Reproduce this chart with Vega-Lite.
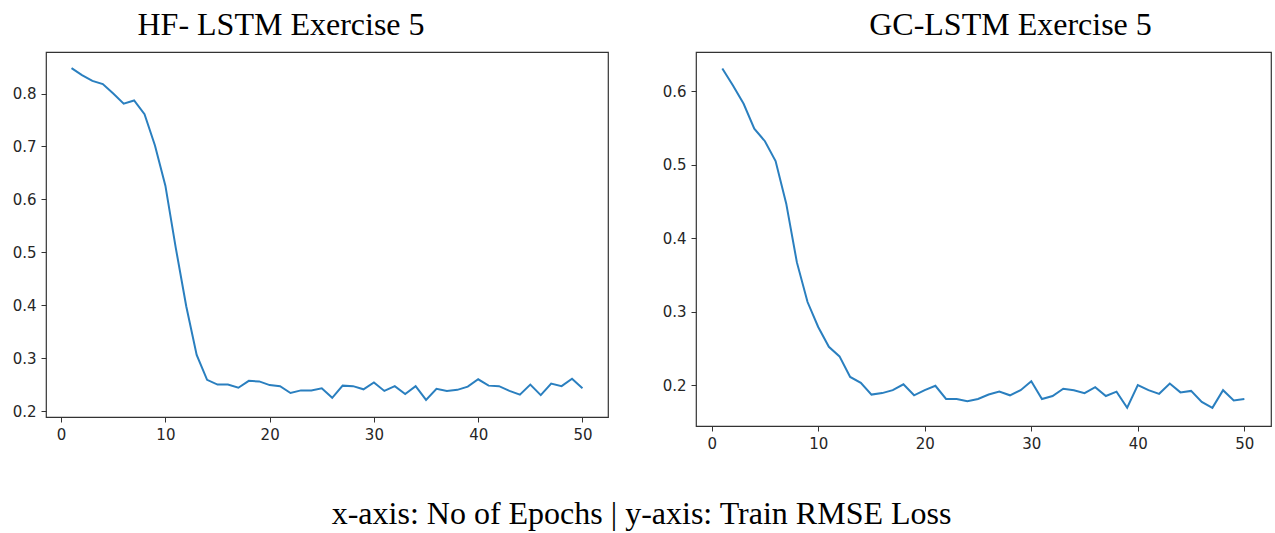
{
  "$schema": "https://vega.github.io/schema/vega-lite/v6.json",
  "background": "white",
  "padding": {"left": 11, "top": 8, "right": 2, "bottom": 2},
  "autosize": {"type": "pad"},
  "title": {"text": "x-axis: No of Epochs | y-axis: Train RMSE Loss", "orient": "bottom", "anchor": "middle", "font": "Liberation Serif", "fontSize": 32, "fontWeight": "normal", "color": "black", "offset": 47},
  "config": {
    "view": {"stroke": "#333333", "strokeWidth": 1.2},
    "axis": {"domain": false, "grid": false, "ticks": true, "tickSize": 5, "tickColor": "#333333", "tickWidth": 1, "labelFont": "DejaVu Sans", "labelFontSize": 15, "labelColor": "#262626", "labelPadding": 5}
  },
  "datasets": {
    "hf": [
      {"epoch": 1, "loss": 0.848}, {"epoch": 2, "loss": 0.835}, {"epoch": 3, "loss": 0.824}, {"epoch": 4, "loss": 0.818}, {"epoch": 5, "loss": 0.800},
      {"epoch": 6, "loss": 0.781}, {"epoch": 7, "loss": 0.787}, {"epoch": 8, "loss": 0.761}, {"epoch": 9, "loss": 0.702}, {"epoch": 10, "loss": 0.626},
      {"epoch": 11, "loss": 0.508}, {"epoch": 12, "loss": 0.398}, {"epoch": 13, "loss": 0.306}, {"epoch": 14, "loss": 0.259}, {"epoch": 15, "loss": 0.250},
      {"epoch": 16, "loss": 0.250}, {"epoch": 17, "loss": 0.244}, {"epoch": 18, "loss": 0.257}, {"epoch": 19, "loss": 0.256}, {"epoch": 20, "loss": 0.249},
      {"epoch": 21, "loss": 0.247}, {"epoch": 22, "loss": 0.234}, {"epoch": 23, "loss": 0.239}, {"epoch": 24, "loss": 0.239}, {"epoch": 25, "loss": 0.243},
      {"epoch": 26, "loss": 0.225}, {"epoch": 27, "loss": 0.248}, {"epoch": 28, "loss": 0.247}, {"epoch": 29, "loss": 0.241}, {"epoch": 30, "loss": 0.254},
      {"epoch": 31, "loss": 0.238}, {"epoch": 32, "loss": 0.247}, {"epoch": 33, "loss": 0.232}, {"epoch": 34, "loss": 0.247}, {"epoch": 35, "loss": 0.221},
      {"epoch": 36, "loss": 0.242}, {"epoch": 37, "loss": 0.238}, {"epoch": 38, "loss": 0.240}, {"epoch": 39, "loss": 0.246}, {"epoch": 40, "loss": 0.260},
      {"epoch": 41, "loss": 0.248}, {"epoch": 42, "loss": 0.247}, {"epoch": 43, "loss": 0.238}, {"epoch": 44, "loss": 0.231}, {"epoch": 45, "loss": 0.250},
      {"epoch": 46, "loss": 0.230}, {"epoch": 47, "loss": 0.252}, {"epoch": 48, "loss": 0.247}, {"epoch": 49, "loss": 0.261}, {"epoch": 50, "loss": 0.243}
    ],
    "gc": [
      {"epoch": 1, "loss": 0.631}, {"epoch": 2, "loss": 0.608}, {"epoch": 3, "loss": 0.583}, {"epoch": 4, "loss": 0.549}, {"epoch": 5, "loss": 0.532},
      {"epoch": 6, "loss": 0.505}, {"epoch": 7, "loss": 0.447}, {"epoch": 8, "loss": 0.367}, {"epoch": 9, "loss": 0.313}, {"epoch": 10, "loss": 0.279},
      {"epoch": 11, "loss": 0.252}, {"epoch": 12, "loss": 0.239}, {"epoch": 13, "loss": 0.211}, {"epoch": 14, "loss": 0.203}, {"epoch": 15, "loss": 0.187},
      {"epoch": 16, "loss": 0.189}, {"epoch": 17, "loss": 0.193}, {"epoch": 18, "loss": 0.201}, {"epoch": 19, "loss": 0.186}, {"epoch": 20, "loss": 0.193},
      {"epoch": 21, "loss": 0.199}, {"epoch": 22, "loss": 0.181}, {"epoch": 23, "loss": 0.181}, {"epoch": 24, "loss": 0.178}, {"epoch": 25, "loss": 0.181},
      {"epoch": 26, "loss": 0.187}, {"epoch": 27, "loss": 0.191}, {"epoch": 28, "loss": 0.186}, {"epoch": 29, "loss": 0.193}, {"epoch": 30, "loss": 0.205},
      {"epoch": 31, "loss": 0.181}, {"epoch": 32, "loss": 0.185}, {"epoch": 33, "loss": 0.195}, {"epoch": 34, "loss": 0.193}, {"epoch": 35, "loss": 0.189},
      {"epoch": 36, "loss": 0.197}, {"epoch": 37, "loss": 0.185}, {"epoch": 38, "loss": 0.191}, {"epoch": 39, "loss": 0.169}, {"epoch": 40, "loss": 0.200},
      {"epoch": 41, "loss": 0.193}, {"epoch": 42, "loss": 0.188}, {"epoch": 43, "loss": 0.202}, {"epoch": 44, "loss": 0.190}, {"epoch": 45, "loss": 0.192},
      {"epoch": 46, "loss": 0.177}, {"epoch": 47, "loss": 0.169}, {"epoch": 48, "loss": 0.193}, {"epoch": 49, "loss": 0.179}, {"epoch": 50, "loss": 0.181}
    ]
  },
  "spacing": 52,
  "hconcat": [
    {
      "width": 562,
      "height": 365,
      "title": {"text": "HF- LSTM Exercise 5", "font": "Liberation Serif", "fontSize": 32, "fontWeight": "normal", "color": "black", "anchor": "middle", "dx": -46, "offset": 10},
      "data": {"name": "hf"},
      "mark": {"type": "line", "color": "#2a7fbf", "strokeWidth": 2, "clip": true},
      "encoding": {
        "x": {"field": "epoch", "type": "quantitative", "scale": {"domain": [-1.45, 52.45], "nice": false, "zero": false}, "axis": {"title": null, "values": [0, 10, 20, 30, 40, 50], "format": "d"}},
        "y": {"field": "loss", "type": "quantitative", "scale": {"domain": [0.1887, 0.8786], "nice": false, "zero": false}, "axis": {"title": null, "values": [0.2, 0.3, 0.4, 0.5, 0.6, 0.7, 0.8], "format": ".1f"}}
      }
    },
    {
      "width": 575,
      "height": 374,
      "title": {"text": "GC-LSTM Exercise 5", "font": "Liberation Serif", "fontSize": 32, "fontWeight": "normal", "color": "black", "anchor": "middle", "dx": 27, "offset": 10},
      "data": {"name": "gc"},
      "mark": {"type": "line", "color": "#2a7fbf", "strokeWidth": 2, "clip": true},
      "encoding": {
        "x": {"field": "epoch", "type": "quantitative", "scale": {"domain": [-1.47, 52.5], "nice": false, "zero": false}, "axis": {"title": null, "values": [0, 10, 20, 30, 40, 50], "format": "d"}},
        "y": {"field": "loss", "type": "quantitative", "scale": {"domain": [0.1442, 0.6535], "nice": false, "zero": false}, "axis": {"title": null, "values": [0.2, 0.3, 0.4, 0.5, 0.6], "format": ".1f"}}
      }
    }
  ]
}
